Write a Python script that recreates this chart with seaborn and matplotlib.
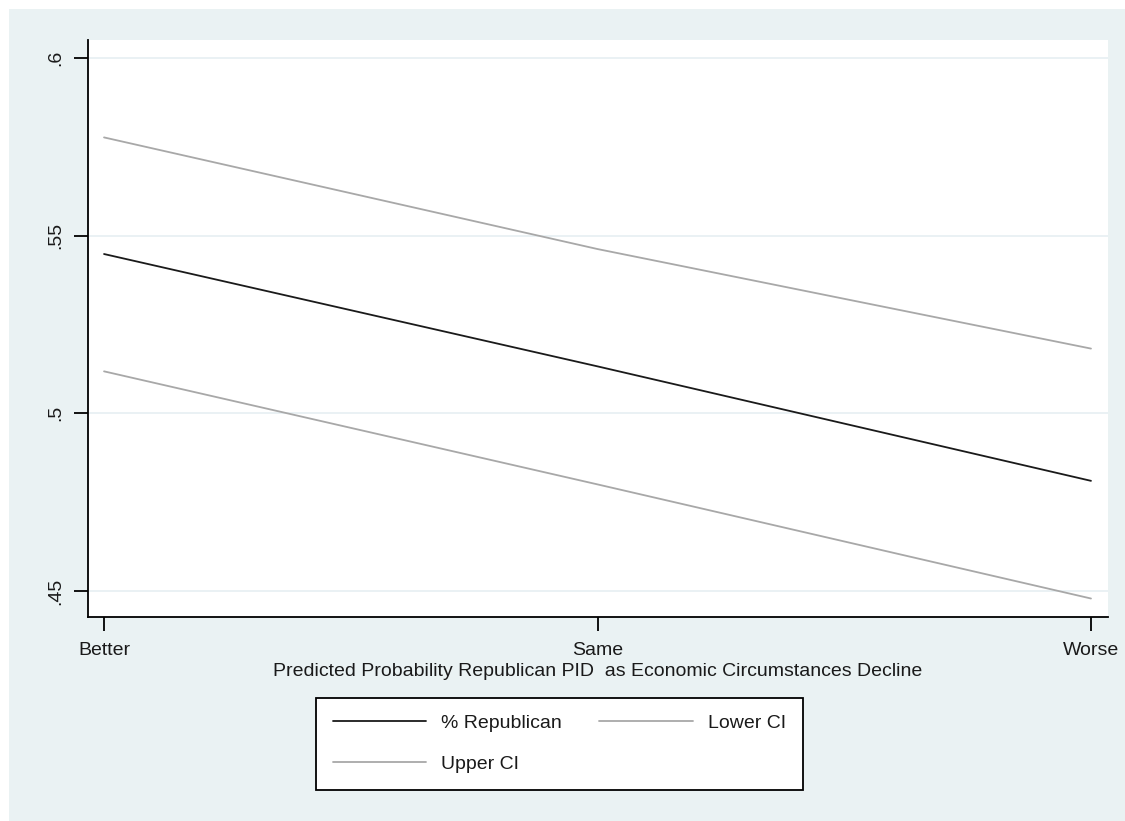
import numpy as np
import pandas as pd
import matplotlib
matplotlib.use("Agg")
import matplotlib.pyplot as plt
import seaborn as sns
from matplotlib.patches import Rectangle

# Economic circumstance categories on the x axis
categories = ["Better", "Same", "Worse"]

# Predicted probability of Republican party ID and its confidence bounds
pct_republican = [0.5448, 0.5132, 0.4810]
lower_ci = [0.5118, 0.4800, 0.4479]
upper_ci = [0.5776, 0.5462, 0.5182]

series_names = ["% Republican", "Lower CI", "Upper CI"]
yticks = [0.45, 0.50, 0.55, 0.60]
ytick_labels = [".45", ".5", ".55", ".6"]
xlabel = "Predicted Probability Republican PID  as Economic Circumstances Decline"

rows = []
for name, vals in zip(series_names, [pct_republican, lower_ci, upper_ci]):
    for i, v in enumerate(vals):
        rows.append({"pos": i, "value": v, "series": name})
df = pd.DataFrame(rows)

BG = "#EAF2F3"
FS = 14
sns.set_style("white")
plt.rcParams["font.family"] = ["Liberation Sans", "DejaVu Sans"]

fig = plt.figure(figsize=(11.25, 8.21), dpi=100, facecolor=BG)
# white margin strips along the top and left edges
fig.patches.append(Rectangle((0, 1 - 9 / 821), 1, 9 / 821, transform=fig.transFigure,
                             facecolor="white", edgecolor="none", zorder=-1))
fig.patches.append(Rectangle((0, 0), 9 / 1125, 1, transform=fig.transFigure,
                             facecolor="white", edgecolor="none", zorder=-1))

ax = fig.add_axes([88 / 1125, 1 - 617 / 821, (1108 - 88) / 1125, (617 - 40) / 821])
ax.set_facecolor("white")

palette = {"% Republican": "#1a1a1a", "Lower CI": "#a8a8a8", "Upper CI": "#a8a8a8"}
sns.lineplot(data=df, x="pos", y="value", hue="series", hue_order=series_names,
             palette=palette, linewidth=1.3, ax=ax, legend=False, zorder=3)

ax.set_xlim(-0.0325, 2.0345)
ax.set_ylim(0.4427, 0.605)
ax.set_xticks(range(len(categories)))
ax.set_xticklabels(categories, fontsize=FS)
ax.set_yticks(yticks)
ax.set_yticklabels(ytick_labels, fontsize=FS, rotation=90, va="center")
ax.tick_params(axis="both", direction="out", length=10, width=1.3, color="black",
               labelcolor="#1a1a1a", bottom=True, left=True)
ax.tick_params(axis="x", pad=8)
ax.tick_params(axis="y", pad=7)
ax.yaxis.grid(True, color="#E6EFF2", linewidth=1.2, zorder=0)
ax.xaxis.grid(False)
for side in ["top", "right"]:
    ax.spines[side].set_visible(False)
for side in ["left", "bottom"]:
    ax.spines[side].set_color("black")
    ax.spines[side].set_linewidth(1.3)

ax.set_xlabel(xlabel, fontsize=FS, color="#1a1a1a", labelpad=3)
ax.set_ylabel("")

# legend entries laid out row by row: (% Republican, Lower CI) then (Upper CI)
leg_order = ["% Republican", "Upper CI", "Lower CI"]
handles = [plt.Line2D([], [], color=palette[n], linewidth=1.3) for n in leg_order]
leg = fig.legend(handles, leg_order, loc="upper left",
                 bbox_to_anchor=(316 / 1125, 1 - 791 / 821, 487 / 1125, 93 / 821),
                 mode="expand", borderaxespad=0, ncol=2,
                 fontsize=FS, frameon=True, fancybox=False, handlelength=4.8,
                 handletextpad=0.8, columnspacing=2.5, borderpad=0.85,
                 labelspacing=1.2, edgecolor="black", facecolor="white",
                 framealpha=1)
leg.get_frame().set_linewidth(1.3)
for t in leg.get_texts():
    t.set_color("#1a1a1a")

fig.savefig("out.png", dpi=100, facecolor=BG)
